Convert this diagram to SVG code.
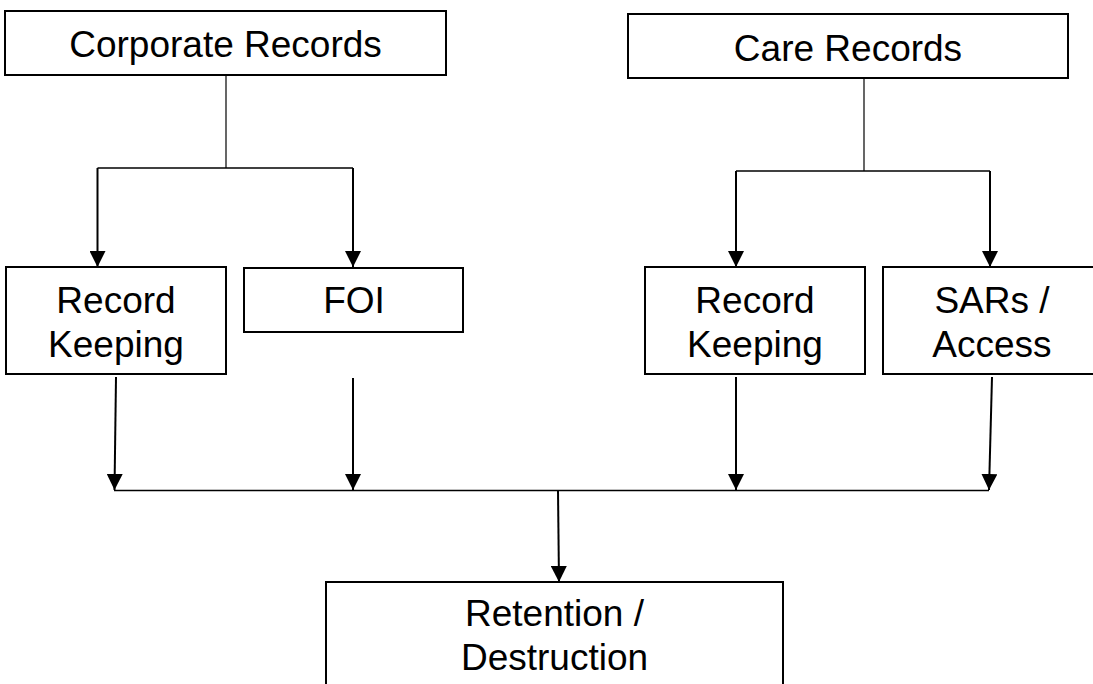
<svg xmlns="http://www.w3.org/2000/svg" width="1093" height="684" viewBox="0 0 1093 684">
<style>
.box{fill:#fff;stroke:#000;stroke-width:2}
.lbl{font-family:"Liberation Sans",Arial,sans-serif;font-size:37px;fill:#000;text-anchor:middle}
.thin{stroke:#000;stroke-width:1.2;fill:none}
.arr{stroke:#000;stroke-width:2;fill:none;marker-end:url(#ah)}
.bar{stroke:#000;stroke-width:1.5;fill:none}
</style>
<defs>
<marker id="ah" viewBox="0 0 16 16" markerWidth="16" markerHeight="16" refX="16" refY="8" orient="auto" markerUnits="userSpaceOnUse">
<path d="M0,0 L16,8 L0,16 Z" fill="#000"/>
</marker>
</defs>
<rect width="1093" height="684" fill="#fff"/>
<g id="connectors">
<line class="thin" x1="226" y1="75" x2="226" y2="168"/>
<line class="bar" x1="97.5" y1="168" x2="353" y2="168"/>
<line class="arr" x1="97.5" y1="168" x2="97.5" y2="267"/>
<line class="arr" x1="353" y1="168" x2="353" y2="267"/>
<line class="thin" x1="864" y1="75" x2="864" y2="171"/>
<line class="bar" x1="736" y1="171" x2="990" y2="171"/>
<line class="arr" x1="736" y1="171" x2="736" y2="267"/>
<line class="arr" x1="990" y1="171" x2="990" y2="267"/>
<line class="arr" x1="116" y1="377" x2="114.5" y2="490"/>
<line class="arr" x1="353" y1="378" x2="353" y2="490"/>
<line class="arr" x1="736" y1="377" x2="736" y2="490"/>
<line class="arr" x1="992" y1="377" x2="989" y2="490"/>
<line class="bar" x1="114" y1="490.5" x2="989" y2="490.5"/>
<line class="arr" x1="558" y1="490.5" x2="559" y2="582"/>
</g>
<g id="corporate-records">
<rect class="box" x="5" y="11" width="441" height="64"/>
<text class="lbl" x="225.5" y="57">Corporate Records</text>
</g>
<g id="care-records">
<rect class="box" x="628" y="14" width="440" height="64"/>
<text class="lbl" x="848" y="61">Care Records</text>
</g>
<g id="record-keeping-corporate">
<rect class="box" x="6" y="267" width="220" height="107"/>
<text class="lbl" x="116" y="313">Record</text>
<text class="lbl" x="116" y="357">Keeping</text>
</g>
<g id="foi">
<rect class="box" x="244" y="268" width="219" height="64"/>
<text class="lbl" x="354" y="313">FOI</text>
</g>
<g id="record-keeping-care">
<rect class="box" x="645" y="267" width="220" height="107"/>
<text class="lbl" x="755" y="313">Record</text>
<text class="lbl" x="755" y="357">Keeping</text>
</g>
<g id="sars-access">
<rect class="box" x="883" y="267" width="220" height="107"/>
<text class="lbl" x="992" y="313">SARs /</text>
<text class="lbl" x="992" y="357">Access</text>
</g>
<g id="retention-destruction">
<rect class="box" x="326" y="582" width="457" height="150"/>
<text class="lbl" x="554.5" y="626">Retention /</text>
<text class="lbl" x="554.5" y="670">Destruction</text>
</g>
</svg>
